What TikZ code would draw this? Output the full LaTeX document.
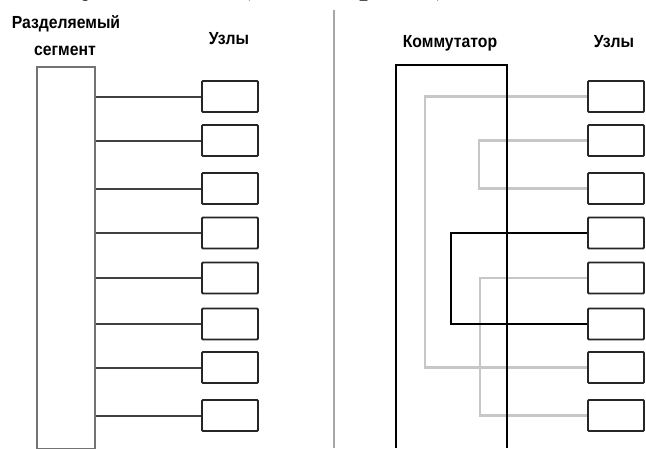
\documentclass[tikz,border=0pt]{standalone}
\usepackage{fontspec}
\setmainfont{Liberation Sans}
\newfontfamily\headserif{Liberation Serif}
\usetikzlibrary{calc}
\begin{document}
\begin{tikzpicture}[x=1pt,y=-1pt,
  hostbox/.style={draw=black!85,line width=1.8pt,rounded corners=1pt,minimum width=56pt,minimum height=31pt,inner sep=0pt,fill=white},
  caption/.style={font=\fontsize{17.5}{17.5}\selectfont\bfseries,inner sep=0pt,anchor=base,xscale=0.9},
  busline/.style={draw=black!75,line width=2pt},
  litewire/.style={draw=black!22,line width=2.2pt},
  darkwire/.style={draw=black,line width=1.3pt},
  fragment/.style={font=\headserif\fontsize{36}{36}\selectfont,inner sep=0pt,anchor=base}]
\useasboundingbox (0,0) rectangle (646,448);
\clip (0,0) rectangle (646,448);

% cut-off heading line above the figure
\node[fragment] (h1) at (82,-7) {ду};
\node[fragment] (h2) at (245,-7) {(};
\node[fragment] (h3) at (368,-7) {р};
\node[fragment] (h4) at (442,-7) {)};

% divider between the two halves
\draw[black!35,line width=2pt] (334,10) -- (334,448);

% ---------- shared segment ----------
\node[caption] (segcap1) at (66,28) {Разделяемый};
\node[caption] (segcap2) at (65,55) {сегмент};
\node[caption] (lcap) at (229,44) {Узлы};
\node[draw=black!55,line width=2pt,minimum width=58pt,minimum height=382pt,inner sep=0pt] (seg) at (66,258) {};

\foreach \i/\y in {1/96.5,2/140.5,3/188.5,4/233,5/278,6/324,7/367.5,8/415.5}{
  \node[hostbox] (l\i) at (230,\y) {};
  \draw[busline] (seg.east |- l\i.west) -- (l\i.west);
}

% ---------- switch ----------
\node[caption] (swcap) at (450,47) {Коммутатор};
\node[caption] (rcap) at (614,47) {Узлы};

\foreach \i/\y in {1/96.5,2/140.5,3/188.5,4/233,5/278,6/324,7/367.5,8/415.5}{
  \node[hostbox] (r\i) at (616,\y) {};
}
\coordinate (sw nw) at (396,65);
\coordinate (sw se) at (507,448);

\draw[litewire] (r1.west) -- ++(-162,0) |- (r7.west);
\draw[litewire] (r2.west) -- ++(-108,0) |- (r3.west);
\draw[litewire] (r5.west) -- ++(-107,0) |- (r8.west);
\draw[darkwire] (r4.west) -- ++(-136,0) |- (r6.west);

\draw[black,line width=1.6pt] (sw nw |- sw se) -- (sw nw) -| (sw se);
\end{tikzpicture}
\end{document}
